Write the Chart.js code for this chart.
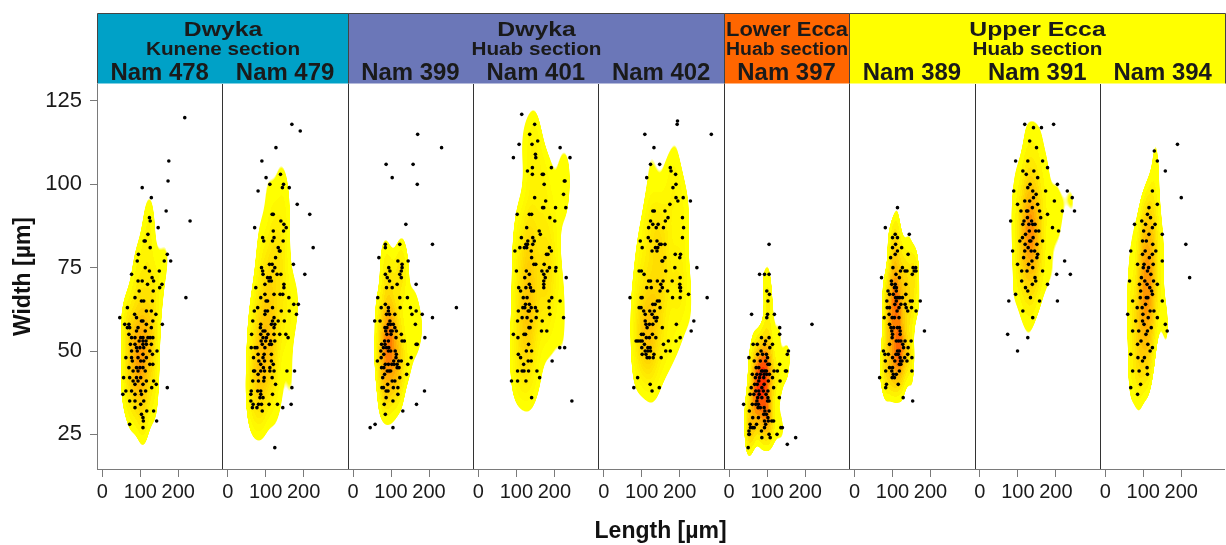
<!DOCTYPE html>
<html>
<head>
<meta charset="utf-8">
<script src="https://cdn.jsdelivr.net/npm/chart.js@4.4.0/dist/chart.umd.min.js"></script>
<style>
  html, body { margin: 0; padding: 0; background: #fff; }
  #wrap { width: 1226px; height: 545px; }
</style>
</head>
<body>
<div id="wrap"><canvas id="chart" width="1226" height="545"></canvas></div>
<script>
// Samples (one panel each), grouped in the header strip
const samples = ['Nam 478', 'Nam 479', 'Nam 399', 'Nam 401', 'Nam 402', 'Nam 397', 'Nam 389', 'Nam 391', 'Nam 394'];
const groupNames = ['Dwyka', 'Dwyka', 'Lower Ecca', 'Upper Ecca'];
const sectionNames = ['Kunene section', 'Huab section', 'Huab section', 'Huab section'];
const groupSizes = [2, 3, 1, 3];
const groupColors = ['#00a1c7', '#6b77b8', '#ff6600', '#ffff00'];

const xTicks = [0, 100, 200];
const yTicks = [25, 50, 75, 100, 125];

// [length, width] in µm
const nam478 = [[217,120],[175,107],[173,101],[105,99],[129,96],[168,92],[231,89],[124,90],[126,89],[147,87],[120,85],[113,83],[110,83],[126,81],[171,79],[95,79],[180,77],[163,77],[92,77],[77,73],[113,75],[124,74],[150,74],[220,66],[131,72],[135,71],[105,71],[157,70],[151,69],[119,70],[94,71],[97,68],[134,68],[86,66],[109,65],[103,65],[132,65],[66,63],[46,60],[85,61],[116,62],[129,62],[141,61],[90,60],[107,59],[103,59],[133,59],[59,58],[70,58],[158,58],[116,58],[72,57],[66,57],[94,57],[129,57],[90,56],[113,56],[70,55],[77,54],[86,54],[101,54],[107,54],[120,54],[126,54],[133,54],[97,53],[107,53],[115,53],[74,52],[86,52],[107,52],[116,52],[129,52],[90,51],[99,51],[109,51],[77,50],[92,50],[125,50],[144,50],[107,49],[132,49],[62,48],[77,48],[94,48],[116,48],[79,47],[101,47],[109,47],[125,46],[133,46],[70,45],[90,45],[99,45],[107,45],[81,44],[94,44],[113,44],[56,42],[72,42],[90,42],[101,42],[81,41],[94,41],[116,41],[135,41],[86,40],[107,40],[142,40],[62,38],[77,38],[101,38],[114,38],[86,37],[103,37],[54,37],[171,39],[130,39],[72,35],[86,35],[109,35],[101,34],[86,33],[135,32],[117,32],[103,31],[107,30],[108,29],[143,29],[72,28],[107,27]];
const nam479 = [[169,118],[191,116],[127,111],[90,107],[139,103],[101,102],[111,100],[147,100],[144,99],[162,99],[80,98],[183,94],[216,91],[117,91],[120,91],[140,89],[148,88],[154,87],[71,87],[147,86],[120,86],[92,84],[95,83],[122,84],[118,83],[146,83],[225,81],[133,81],[136,80],[138,80],[126,78],[110,76],[117,76],[173,76],[89,75],[124,75],[92,74],[119,74],[203,73],[93,73],[130,73],[140,73],[105,72],[112,72],[109,71],[115,71],[98,70],[148,70],[74,69],[148,69],[98,67],[122,67],[138,67],[145,67],[87,66],[161,66],[101,65],[105,65],[174,64],[186,64],[79,63],[118,63],[70,62],[141,62],[162,62],[99,62],[105,62],[98,61],[181,61],[122,60],[118,59],[133,59],[149,59],[66,59],[87,58],[124,58],[115,58],[122,57],[86,57],[93,56],[98,56],[106,55],[122,55],[137,55],[153,55],[63,55],[87,55],[159,54],[93,54],[102,54],[113,53],[124,53],[88,53],[100,53],[91,52],[110,52],[115,52],[77,51],[62,51],[72,51],[98,51],[80,49],[115,49],[96,49],[68,48],[93,48],[82,47],[97,47],[115,47],[120,46],[87,46],[94,45],[111,45],[68,44],[71,44],[87,44],[97,44],[111,44],[122,44],[156,44],[176,44],[80,43],[96,42],[117,42],[66,41],[81,41],[95,41],[126,40],[169,39],[62,38],[79,38],[87,38],[61,37],[87,37],[118,37],[85,36],[93,36],[61,35],[67,34],[81,34],[89,34],[109,34],[131,34],[167,34],[65,33],[77,33],[145,33],[91,32],[124,21]];
const nam399 = [[170,115],[233,111],[87,106],[158,106],[103,102],[169,100],[139,88],[209,82],[85,82],[85,81],[123,82],[68,78],[118,77],[145,77],[129,76],[129,75],[94,75],[97,74],[127,74],[85,73],[123,73],[127,72],[90,72],[96,71],[116,70],[166,70],[88,69],[103,69],[65,66],[123,66],[143,66],[272,63],[74,63],[85,64],[124,63],[151,63],[93,63],[93,62],[110,61],[166,62],[88,61],[96,61],[155,61],[182,61],[209,60],[57,59],[71,59],[97,59],[93,58],[99,58],[106,58],[164,58],[84,57],[89,57],[110,57],[86,56],[99,56],[103,56],[114,56],[127,55],[89,55],[100,55],[189,54],[113,54],[83,53],[129,53],[135,53],[93,53],[75,52],[84,52],[166,52],[169,52],[88,51],[94,51],[80,51],[93,50],[111,50],[73,50],[99,50],[114,49],[81,49],[153,48],[74,48],[113,48],[107,47],[64,47],[120,47],[127,47],[85,46],[93,46],[102,46],[108,46],[116,46],[144,46],[75,45],[81,45],[116,45],[121,45],[90,44],[95,44],[99,44],[141,43],[83,43],[78,42],[123,42],[103,41],[110,41],[91,40],[76,39],[80,39],[106,39],[118,39],[87,38],[92,38],[188,38],[118,37],[87,36],[105,35],[167,34],[82,34],[131,32],[85,31],[58,28],[45,27],[105,27]];
const nam401 = [[114,121],[148,118],[135,115],[156,113],[141,112],[107,112],[215,111],[92,108],[150,109],[151,108],[241,108],[142,105],[129,104],[142,103],[168,103],[171,103],[192,105],[226,101],[228,101],[173,100],[224,97],[148,96],[177,95],[169,93],[172,93],[203,93],[230,93],[102,91],[134,91],[140,91],[188,90],[201,89],[127,87],[160,86],[163,85],[113,84],[143,84],[130,83],[147,83],[125,82],[129,82],[109,81],[121,81],[127,81],[143,82],[187,81],[192,80],[96,80],[139,80],[179,79],[183,79],[140,78],[146,76],[151,76],[173,76],[204,75],[203,74],[187,75],[181,74],[100,74],[126,74],[167,74],[134,73],[172,73],[231,72],[122,72],[176,72],[172,71],[172,70],[172,69],[106,69],[125,69],[134,70],[137,69],[111,68],[140,68],[145,68],[193,66],[186,65],[118,66],[128,66],[215,65],[124,64],[134,64],[186,63],[117,63],[122,63],[139,63],[150,63],[105,62],[131,62],[134,62],[154,62],[188,61],[115,60],[128,60],[152,60],[224,60],[103,59],[139,59],[168,59],[133,57],[136,57],[166,56],[180,56],[92,55],[120,55],[124,55],[104,54],[132,52],[214,51],[227,51],[126,50],[140,50],[105,49],[111,48],[131,47],[139,47],[194,47],[119,46],[103,44],[115,44],[120,44],[132,44],[154,44],[161,42],[87,41],[103,41],[125,41],[140,36],[246,35]];
const nam402 = [[194,119],[193,118],[108,115],[283,115],[132,111],[123,106],[147,106],[175,105],[177,104],[189,103],[113,102],[190,100],[182,99],[190,96],[209,96],[195,95],[228,95],[174,94],[129,92],[133,92],[161,92],[169,90],[207,90],[123,89],[129,88],[143,88],[162,89],[210,87],[118,87],[138,87],[157,87],[207,84],[117,84],[96,83],[123,83],[140,83],[147,82],[151,82],[161,82],[136,81],[142,81],[101,81],[127,80],[140,80],[188,79],[202,79],[200,78],[161,78],[153,77],[155,77],[245,75],[187,75],[93,74],[99,74],[163,74],[106,73],[201,72],[180,71],[156,71],[141,71],[123,71],[118,71],[113,69],[150,70],[154,69],[200,70],[200,69],[202,69],[148,68],[168,68],[202,68],[125,69],[69,66],[98,66],[101,66],[181,66],[201,66],[223,67],[272,66],[141,65],[146,65],[135,64],[129,64],[93,63],[98,63],[148,63],[105,62],[121,62],[133,62],[127,61],[109,61],[133,60],[140,60],[109,59],[138,59],[237,59],[191,58],[111,58],[120,58],[129,58],[154,57],[114,57],[230,56],[128,55],[99,55],[104,55],[201,54],[112,54],[120,54],[137,54],[85,53],[90,53],[96,53],[101,53],[190,53],[170,53],[107,52],[157,52],[116,51],[122,51],[100,51],[109,50],[116,50],[123,50],[163,50],[175,50],[101,49],[132,49],[111,49],[114,48],[120,48],[130,48],[151,48],[89,42],[79,39],[122,40],[146,39],[127,38]];
const nam397 = [[105,82],[80,73],[93,73],[105,73],[99,68],[106,67],[102,65],[59,61],[101,61],[119,61],[99,60],[218,58],[133,57],[133,55],[96,53],[85,54],[105,54],[114,52],[63,52],[74,52],[93,52],[107,51],[156,50],[153,49],[84,50],[75,49],[88,49],[98,49],[52,48],[66,47],[82,47],[96,47],[101,48],[102,46],[106,46],[133,46],[71,45],[78,45],[85,44],[88,44],[94,44],[98,44],[118,44],[127,44],[148,44],[151,44],[61,43],[73,43],[82,43],[92,43],[99,43],[106,43],[69,42],[80,42],[91,42],[114,42],[78,41],[103,41],[134,41],[67,40],[74,40],[92,40],[58,39],[86,39],[117,39],[78,38],[70,38],[90,38],[102,38],[65,37],[79,37],[97,37],[55,37],[75,36],[86,36],[102,36],[101,35],[105,35],[132,36],[73,35],[61,34],[38,34],[70,34],[77,34],[82,33],[92,33],[76,33],[94,32],[105,32],[53,32],[91,31],[98,31],[102,30],[62,30],[77,30],[93,29],[112,29],[117,29],[55,28],[72,28],[96,28],[103,29],[56,27],[62,27],[66,27],[93,27],[136,27],[140,27],[52,26],[85,26],[105,25],[126,25],[53,25],[52,25],[86,24],[108,24],[175,24],[153,22],[50,21]];
const nam389 = [[113,93],[81,87],[144,85],[107,85],[100,84],[113,84],[108,82],[100,81],[124,81],[113,80],[107,79],[95,78],[141,79],[101,75],[126,75],[154,75],[161,75],[133,74],[138,74],[157,74],[162,74],[121,74],[109,73],[152,73],[118,72],[71,72],[97,71],[98,70],[107,70],[135,70],[105,69],[110,69],[88,68],[110,68],[102,67],[135,67],[92,67],[114,66],[119,66],[126,66],[108,66],[85,65],[110,65],[147,65],[152,65],[173,65],[122,64],[133,64],[106,64],[86,63],[92,63],[117,63],[136,63],[150,63],[112,62],[140,62],[162,62],[91,61],[78,60],[99,60],[105,60],[117,60],[92,58],[96,57],[103,57],[113,57],[118,57],[98,56],[120,56],[184,56],[100,55],[120,55],[99,54],[116,53],[122,53],[110,53],[133,53],[149,53],[92,52],[127,52],[129,51],[141,51],[113,50],[118,50],[76,50],[80,49],[89,49],[109,49],[115,49],[140,49],[100,48],[120,48],[132,48],[151,48],[81,47],[106,47],[121,47],[125,47],[138,47],[118,46],[122,46],[92,45],[100,45],[151,44],[82,44],[98,44],[118,44],[102,43],[110,43],[66,42],[99,42],[105,42],[84,40],[82,39],[115,40],[128,36],[153,35]];
const nam391 = [[118,118],[141,117],[162,117],[194,118],[131,113],[149,111],[94,107],[165,107],[126,107],[178,105],[113,104],[152,102],[204,100],[89,98],[139,98],[173,98],[230,98],[243,96],[249,92],[196,95],[217,92],[99,94],[126,92],[157,92],[178,91],[81,89],[113,88],[139,88],[191,87],[207,86],[105,83],[131,83],[165,83],[86,80],[118,80],[152,79],[183,78],[223,77],[99,76],[139,75],[165,74],[110,71],[147,71],[178,70],[126,68],[94,67],[157,65],[76,65],[204,65],[113,62],[139,60],[73,55],[99,50],[126,54],[238,73],[202,73],[120,85],[130,86],[140,84],[125,90],[135,80],[145,88],[115,78],[150,82],[128,76],[138,93],[118,95],[148,97],[132,100],[122,103],[142,104],[112,84],[155,86],[127,81],[137,77],[145,72],[120,69],[133,66],[110,74],[160,90],[150,78],[123,92],[141,96],[116,89],[134,83],[129,88],[108,92],[144,80],[124,74],[136,89],[152,94],[119,82],[131,95],[147,86],[126,99],[138,70]];
const nam394 = [[190,112],[129,110],[137,107],[158,104],[124,98],[137,94],[200,96],[111,91],[77,88],[124,87],[150,85],[212,82],[98,83],[67,80],[124,79],[150,77],[85,76],[222,72],[111,74],[64,71],[137,70],[93,68],[124,67],[72,65],[106,64],[150,65],[59,61],[98,59],[137,60],[72,56],[111,56],[158,58],[163,56],[85,52],[124,51],[67,49],[98,47],[72,44],[111,43],[93,40],[67,39],[85,37],[100,75],[110,70],[105,80],[115,85],[95,72],[120,73],[108,66],[118,62],[102,58],[112,52],[97,63],[122,68],[106,88],[116,78],[90,70],[125,82],[101,86],[113,60],[88,56],[119,90],[103,48],[94,53],[110,45],[128,62],[98,79],[104,71],[114,75],[92,66],[117,69],[108,83],[126,76],[99,61],[84,63],[131,88],[107,55],[121,57],[89,44],[115,93],[96,89],[127,71],[80,59],[112,66],[102,76],[133,80],[86,48],[118,50]];

const facetData = [nam478, nam479, nam399, nam401, nam402, nam397, nam389, nam391, nam394];

// each panel spans 330 µm of the shared x scale, panel range is -14..316
const FACET = 330;
const XOFF = 14;
const LOW_CUT = 0.145;  // lowest contour, as a share of each panel's peak
const LEVELS = 10;      // contour bands per panel

// bandwidth as in MASS::bandwidth.nrd / 4
function bandwidth(v) {
  const n = v.length;
  const m = v.reduce((a, b) => a + b, 0) / n;
  const sd = Math.sqrt(v.reduce((a, b) => a + (b - m) * (b - m), 0) / (n - 1));
  const s = [...v].sort((a, b) => a - b);
  const q = p => { const h = (n - 1) * p, lo = Math.floor(h); return s[lo] + (h - lo) * (s[Math.min(lo + 1, n - 1)] - s[lo]); };
  const iqr = q(0.75) - q(0.25);
  return 1.06 * Math.min(sd, iqr / 1.34) * Math.pow(n, -0.2);
}

function ramp(t) {
  const stops = [[0, 255, 255, 0], [0.5, 255, 175, 0], [1, 255, 20, 0]];
  for (let i = 1; i < stops.length; i++) {
    if (t <= stops[i][0]) {
      const a = stops[i - 1], b = stops[i];
      const f = (t - a[0]) / (b[0] - a[0]);
      return [a[1] + f * (b[1] - a[1]), a[2] + f * (b[2] - a[2]), a[3] + f * (b[3] - a[3])];
    }
  }
  return stops[stops.length - 1].slice(1);
}

function buildDensity(chart) {
  const { chartArea: a, scales } = chart;
  const sx = scales.x, sy = scales.y;
  const L = Math.floor(a.left), T = Math.floor(a.top);
  const W = Math.ceil(a.right) - L, H = Math.ceil(a.bottom) - T;
  const dens = new Float32Array(W * H);
  const owner = new Int8Array(W * H).fill(-1);
  const yv = new Float32Array(H);
  for (let r = 0; r < H; r++) yv[r] = sy.getValueForPixel(T + r + 0.5);
  const peaks = [];
  facetData.forEach((pts, k) => {
    const n = pts.length;
    const hx = bandwidth(pts.map(p => p[0]));
    const hy = bandwidth(pts.map(p => p[1]));
    const norm = 1 / (n * 2 * Math.PI * hx * hy);
    const c0 = Math.max(0, Math.ceil(sx.getPixelForValue(k * FACET)) - L);
    const c1 = Math.min(W, Math.ceil(sx.getPixelForValue((k + 1) * FACET)) - L);
    const kx = new Float32Array(n);
    let peak = 0;
    for (let c = c0; c < c1; c++) {
      const vx = sx.getValueForPixel(L + c + 0.5) - k * FACET - XOFF;
      for (let i = 0; i < n; i++) {
        const d = (vx - pts[i][0]) / hx;
        kx[i] = d * d < 30 ? Math.exp(-0.5 * d * d) : 0;
      }
      for (let r = 0; r < H; r++) {
        let s = 0;
        for (let i = 0; i < n; i++) {
          if (kx[i] === 0) continue;
          const d = (yv[r] - pts[i][1]) / hy;
          if (d * d < 30) s += kx[i] * Math.exp(-0.5 * d * d);
        }
        const v = s * norm;
        dens[r * W + c] = v;
        owner[r * W + c] = k;
        if (v > peak) peak = v;
      }
    }
    peaks.push(peak);
  });
  const gmax = Math.max(...peaks);
  const img = new ImageData(W, H);
  for (let p = 0; p < W * H; p++) {
    const k = owner[p];
    if (k < 0) continue;
    const v = dens[p];
    const thr = peaks[k] * LOW_CUT;
    if (v < thr * 0.94) continue;
    const step = (peaks[k] - thr) / LEVELS;
    const lvl = thr + Math.max(0, Math.floor((v - thr) / step)) * step;
    const t = Math.max(0, Math.min(1, (lvl - thr) / (gmax - thr)));
    const [r, g, b] = ramp(t);
    img.data[p * 4] = r;
    img.data[p * 4 + 1] = g;
    img.data[p * 4 + 2] = b;
    img.data[p * 4 + 3] = Math.round(255 * Math.min(1, (v - thr * 0.94) / (thr * 0.06)));
  }
  const off = document.createElement('canvas');
  off.width = W;
  off.height = H;
  off.getContext('2d').putImageData(img, 0, 0);
  return { off, L, T };
}

// Density fill behind the points, panel separators on top
const densityPlugin = {
  id: 'density',
  beforeDatasetsDraw(chart) {
    if (!chart.$density) chart.$density = buildDensity(chart);
    const { off, L, T } = chart.$density;
    chart.ctx.drawImage(off, L, T);
  },
  afterDatasetsDraw(chart) {
    const { ctx, chartArea: a, scales: { x } } = chart;
    ctx.save();
    ctx.strokeStyle = '#333';
    ctx.lineWidth = 1;
    for (let k = 1; k < samples.length; k++) {
      const px = Math.round(x.getPixelForValue(k * FACET)) + 0.5;
      ctx.beginPath();
      ctx.moveTo(px, a.top);
      ctx.lineTo(px, a.bottom);
      ctx.stroke();
    }
    ctx.restore();
  }
};

function stretchedText(ctx, text, cx, by, font, sx, maxW) {
  ctx.save();
  ctx.translate(cx, by);
  ctx.scale(sx, 1);
  ctx.font = font;
  ctx.textAlign = 'center';
  ctx.textBaseline = 'alphabetic';
  ctx.fillText(text, 0, 0, maxW / sx);
  ctx.restore();
}

// Header strips: group / section / sample
const stripPlugin = {
  id: 'strips',
  afterDraw(chart) {
    const { ctx, chartArea: a, scales: { x } } = chart;
    const top = 13.5, bottom = 83.5;
    let k = 0;
    ctx.save();
    groupSizes.forEach((size, g) => {
      const x0 = Math.round(x.getPixelForValue(k * FACET)) + 0.5;
      const x1 = Math.min(a.right + 2, Math.round(x.getPixelForValue((k + size) * FACET)) + 0.5);
      ctx.fillStyle = groupColors[g];
      ctx.fillRect(x0, top, x1 - x0, bottom - top);
      ctx.strokeStyle = '#444';
      ctx.lineWidth = 1;
      ctx.beginPath();
      ctx.moveTo(x0, bottom);
      ctx.lineTo(x0, top);
      ctx.lineTo(x1, top);
      ctx.lineTo(x1, bottom);
      ctx.stroke();
      ctx.fillStyle = '#1a1a1a';
      const cx = (x0 + x1) / 2;
      stretchedText(ctx, groupNames[g], cx, 36, 'bold 21px "Liberation Sans", Arial, sans-serif', 1.18, x1 - x0 - 3);
      stretchedText(ctx, sectionNames[g], cx, 55, 'bold 18px "Liberation Sans", Arial, sans-serif', 1.15, x1 - x0 - 3);
      for (let j = k; j < k + size; j++) {
        const fx0 = x.getPixelForValue(j * FACET), fx1 = x.getPixelForValue((j + 1) * FACET);
        stretchedText(ctx, samples[j], (fx0 + fx1) / 2, 80, 'bold 23px "Liberation Sans", Arial, sans-serif', 1.04, fx1 - fx0 - 2);
      }
      k += size;
    });
    ctx.restore();
  }
};

const datasets = facetData.map((pts, k) => ({
  label: samples[k],
  data: pts.map(([len, wid]) => ({ x: k * FACET + XOFF + len, y: wid })),
  pointRadius: 1.8,
  pointHoverRadius: 1.8,
  pointBackgroundColor: '#000',
  pointBorderWidth: 0,
  showLine: false
}));

new Chart(document.getElementById('chart'), {
  type: 'scatter',
  data: { datasets },
  options: {
    responsive: false,
    animation: false,
    events: [],
    layout: { padding: { top: 84, left: 0, right: 0, bottom: 0 } },
    plugins: { legend: { display: false }, tooltip: { enabled: false } },
    scales: {
      x: {
        type: 'linear',
        min: 0,
        max: 2967,
        afterBuildTicks(scale) {
          const t = [];
          samples.forEach((s, k) => xTicks.forEach(v => t.push({ value: k * FACET + XOFF + v })));
          scale.ticks = t;
        },
        afterFit(scale) { scale.height = 76; },
        ticks: {
          autoSkip: false,
          maxRotation: 0,
          padding: 3,
          color: '#1a1a1a',
          font: { family: '"Liberation Sans", Arial, sans-serif', size: 20 },
          callback: v => String(Math.round(v - XOFF - Math.floor(v / FACET) * FACET))
        },
        grid: { drawOnChartArea: false, tickLength: 8, color: '#7a7a7a' },
        border: { color: '#7a7a7a', width: 1 },
        title: {
          display: true,
          text: 'Length [µm]',
          color: '#111',
          padding: { top: 0, bottom: 0 },
          font: { family: '"Liberation Sans", Arial, sans-serif', size: 23, weight: 'bold' }
        }
      },
      y: {
        type: 'linear',
        min: 14.6,
        max: 130.1,
        afterBuildTicks(scale) { scale.ticks = yTicks.map(v => ({ value: v })); },
        afterFit(scale) { scale.width = 97; },
        ticks: {
          padding: 8,
          color: '#1a1a1a',
          font: { family: '"Liberation Sans", Arial, sans-serif', size: 22 }
        },
        grid: { drawOnChartArea: false, tickLength: 7, color: '#7a7a7a' },
        border: { color: '#7a7a7a', width: 1 },
        title: {
          display: true,
          text: 'Width [µm]',
          color: '#111',
          padding: { top: 10, bottom: 0 },
          font: { family: '"Liberation Sans", Arial, sans-serif', size: 23, weight: 'bold' }
        }
      }
    }
  },
  plugins: [densityPlugin, stripPlugin]
});
</script>
</body>
</html>
